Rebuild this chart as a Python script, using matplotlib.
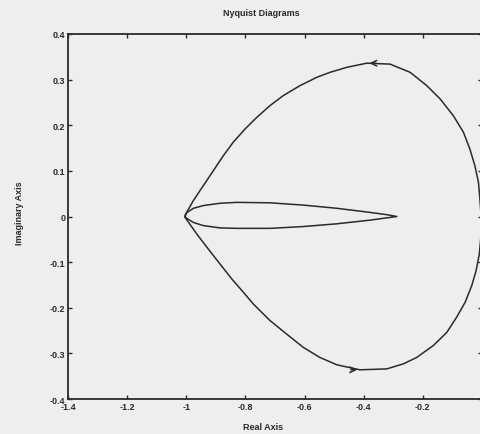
import matplotlib
matplotlib.use("Agg")
import matplotlib.pyplot as plt

# outer contour (starts and ends at -1, goes round through the right)
outer_re = [-1.004, -0.976, -0.942, -0.909, -0.875, -0.841, -0.801, -0.762, -0.717, -0.672,
            -0.615, -0.559, -0.514, -0.457, -0.390, -0.311, -0.243, -0.187, -0.142, -0.097,
            -0.063, -0.041, -0.024, -0.012, -0.007, -0.003,
            -0.004, -0.009, -0.020, -0.035, -0.057, -0.086, -0.119, -0.165, -0.221, -0.266,
            -0.322, -0.413, -0.491, -0.548, -0.604, -0.660, -0.717, -0.773, -0.807, -0.846,
            -0.886, -0.926, -0.965, -1.004]
outer_im = [0.003, 0.035, 0.068, 0.100, 0.133, 0.163, 0.192, 0.217, 0.243, 0.265,
            0.287, 0.305, 0.316, 0.327, 0.336, 0.334, 0.316, 0.287, 0.258, 0.221,
            0.185, 0.148, 0.111, 0.075, 0.038, 0.0,
            -0.046, -0.082, -0.119, -0.152, -0.188, -0.221, -0.254, -0.283, -0.309, -0.323,
            -0.334, -0.336, -0.325, -0.309, -0.287, -0.258, -0.228, -0.192, -0.166, -0.137,
            -0.104, -0.071, -0.038, -0.002]

# inner loop around the real axis
inner_re = [-1.004, -0.999, -0.976, -0.942, -0.886, -0.829, -0.717, -0.604, -0.491, -0.379,
            -0.322, -0.288, -0.322, -0.379, -0.491, -0.604, -0.717, -0.829, -0.886, -0.942,
            -0.976, -0.999, -1.004]
inner_im = [0.0, 0.008, 0.018, 0.024, 0.029, 0.031, 0.030, 0.025, 0.018, 0.009,
            0.004, 0.0, -0.003, -0.008, -0.016, -0.022, -0.026, -0.026, -0.025, -0.020,
            -0.013, -0.004, 0.0]

xticks = [-1.4, -1.2, -1, -0.8, -0.6, -0.4, -0.2, 0]
yticks = [-0.4, -0.3, -0.2, -0.1, 0, 0.1, 0.2, 0.3, 0.4]

bg = "#eeeeee"
ink = "#2a2a2a"
plt.rcParams["font.family"] = ["Liberation Sans", "DejaVu Sans"]

fig = plt.figure(figsize=(4.81, 4.35), dpi=100, facecolor=bg)
ax = fig.add_axes([68 / 481, 35 / 435, 414 / 481, 365 / 435], facecolor=bg)

ax.plot(outer_re, outer_im, color=ink, lw=1.1, solid_joinstyle="round")
ax.plot(inner_re, inner_im, color=ink, lw=1.1, solid_joinstyle="round")

# direction arrows: upper one points left, lower one points right
up = 14
lo = 37
ax.annotate("", xy=(outer_re[up], outer_im[up]), xytext=(outer_re[up] + 0.04, outer_im[up]),
            arrowprops=dict(arrowstyle="->", color=ink, lw=1.1, mutation_scale=10))
ax.annotate("", xy=(outer_re[lo], outer_im[lo]), xytext=(outer_re[lo] - 0.04, outer_im[lo]),
            arrowprops=dict(arrowstyle="->", color=ink, lw=1.1, mutation_scale=10))

ax.set_xlim(-1.4, 0)
ax.set_ylim(-0.4, 0.4)
ax.set_xticks(xticks)
ax.set_xticklabels([f"{t:g}" for t in xticks])
ax.set_yticks(yticks)
ax.set_yticklabels([f"{t:g}" for t in yticks])
ax.tick_params(direction="in", length=3, width=1, top=True, right=True,
               labelsize=6.5, colors=ink, pad=2)
for lab in ax.get_xticklabels() + ax.get_yticklabels():
    lab.set_fontweight("bold")
for s in ax.spines.values():
    s.set_linewidth(1.3)
    s.set_color(ink)

fig.text(261 / 481, 1 - 13 / 435, "Nyquist Diagrams", ha="center", va="center",
         fontsize=6.5, fontweight="bold", color=ink)
fig.text(263 / 481, 1 - 428 / 435, "Real Axis", ha="center", va="center",
         fontsize=6.5, fontweight="bold", color=ink)
fig.text(20 / 481, 1 - 213 / 435, "Imaginary Axis", ha="center", va="center",
         rotation=90, fontsize=6.5, fontweight="bold", color=ink)

fig.savefig("out.png", dpi=100, facecolor=bg)
